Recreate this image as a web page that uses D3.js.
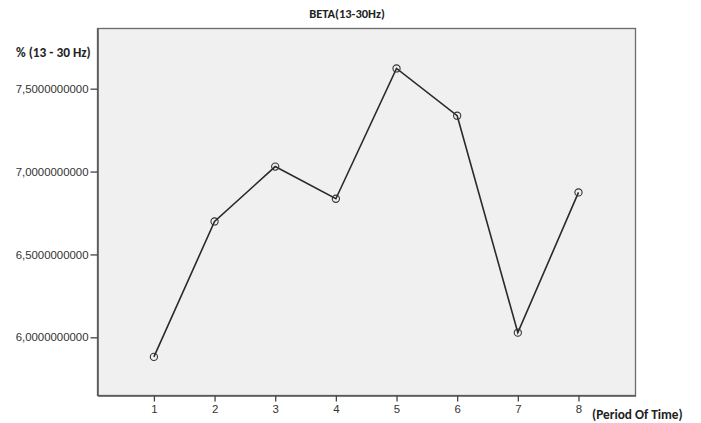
<!DOCTYPE html>
<html><head><meta charset="utf-8">
<script src="https://cdn.jsdelivr.net/npm/d3@7"></script>
<style>body{margin:0;background:#fff}svg{display:block}</style>
</head><body>
<script>
const periods = [1, 2, 3, 4, 5, 6, 7, 8];
const values = [5.882, 6.699, 7.030, 6.836, 7.622, 7.337, 6.028, 6.874];
const yTicks = [6.0, 6.5, 7.0, 7.5];
const xTicks = [1, 2, 3, 4, 5, 6, 7, 8];
const title = "BETA(13-30Hz)";
const yLabel = "% (13 - 30 Hz)";
const xLabel = "(Period Of Time)";

const W = 701, H = 423;
const L = 97.5, R = 635.5, T = 28.5, B = 395.5;
const svg = d3.select("body").append("svg").attr("width", W).attr("height", H);

const x = d3.scaleLinear().domain([0.07, 8.94]).range([L, R]);
const y = d3.scaleLinear().domain([5.649, 7.863]).range([B, T]);

svg.append("rect").attr("x", L).attr("y", T).attr("width", R - L).attr("height", B - T)
  .attr("fill", "#f0f0f0").attr("stroke", "#6b6b6b").attr("stroke-width", 1.3);

const fmt = d => d.toFixed(10).replace(".", ",");
const yAxis = svg.append("g").attr("transform", `translate(${L},0)`)
  .call(d3.axisLeft(y).tickValues(yTicks).tickFormat(fmt).tickSizeInner(7).tickSizeOuter(0).tickPadding(2));
const xAxis = svg.append("g").attr("transform", `translate(0,${B})`)
  .call(d3.axisBottom(x).tickValues(xTicks).tickFormat(d3.format("d")).tickSizeInner(6).tickSizeOuter(0).tickPadding(3));
[yAxis, xAxis].forEach(g => {
  g.select(".domain").attr("stroke", "#555").attr("stroke-width", 1.5);
  g.selectAll(".tick line").attr("stroke", "#444").attr("stroke-width", 1.3);
  g.selectAll(".tick text").attr("fill", "#333").attr("font-family", "Liberation Sans, Arial, sans-serif").attr("font-size", 11.4);
});

const line = d3.line().x((d, i) => x(periods[i])).y(d => y(d));
svg.append("path").datum(values).attr("d", line).attr("fill", "none")
  .attr("stroke", "#2a2a2a").attr("stroke-width", 1.6);
svg.selectAll("circle.pt").data(values).enter().append("circle").attr("class", "pt")
  .attr("cx", (d, i) => x(periods[i])).attr("cy", d => y(d)).attr("r", 3.6)
  .attr("fill", "none").attr("stroke", "#333").attr("stroke-width", 1.1);

const bold = "Carlito, 'Open Sans', 'Liberation Sans', sans-serif";
svg.append("text").attr("x", 347).attr("y", 18).attr("text-anchor", "middle")
  .attr("font-family", bold).attr("font-weight", "bold").attr("font-size", 12.5).attr("fill", "#222").text(title);
svg.append("text").attr("x", 16).attr("y", 57).attr("font-family", bold).attr("font-weight", "bold")
  .attr("font-size", 13.3).attr("fill", "#222").text(yLabel);
svg.append("text").attr("x", 592).attr("y", 419).attr("font-family", bold).attr("font-weight", "bold")
  .attr("font-size", 13.3).attr("fill", "#222").text(xLabel);
</script>
</body></html>
